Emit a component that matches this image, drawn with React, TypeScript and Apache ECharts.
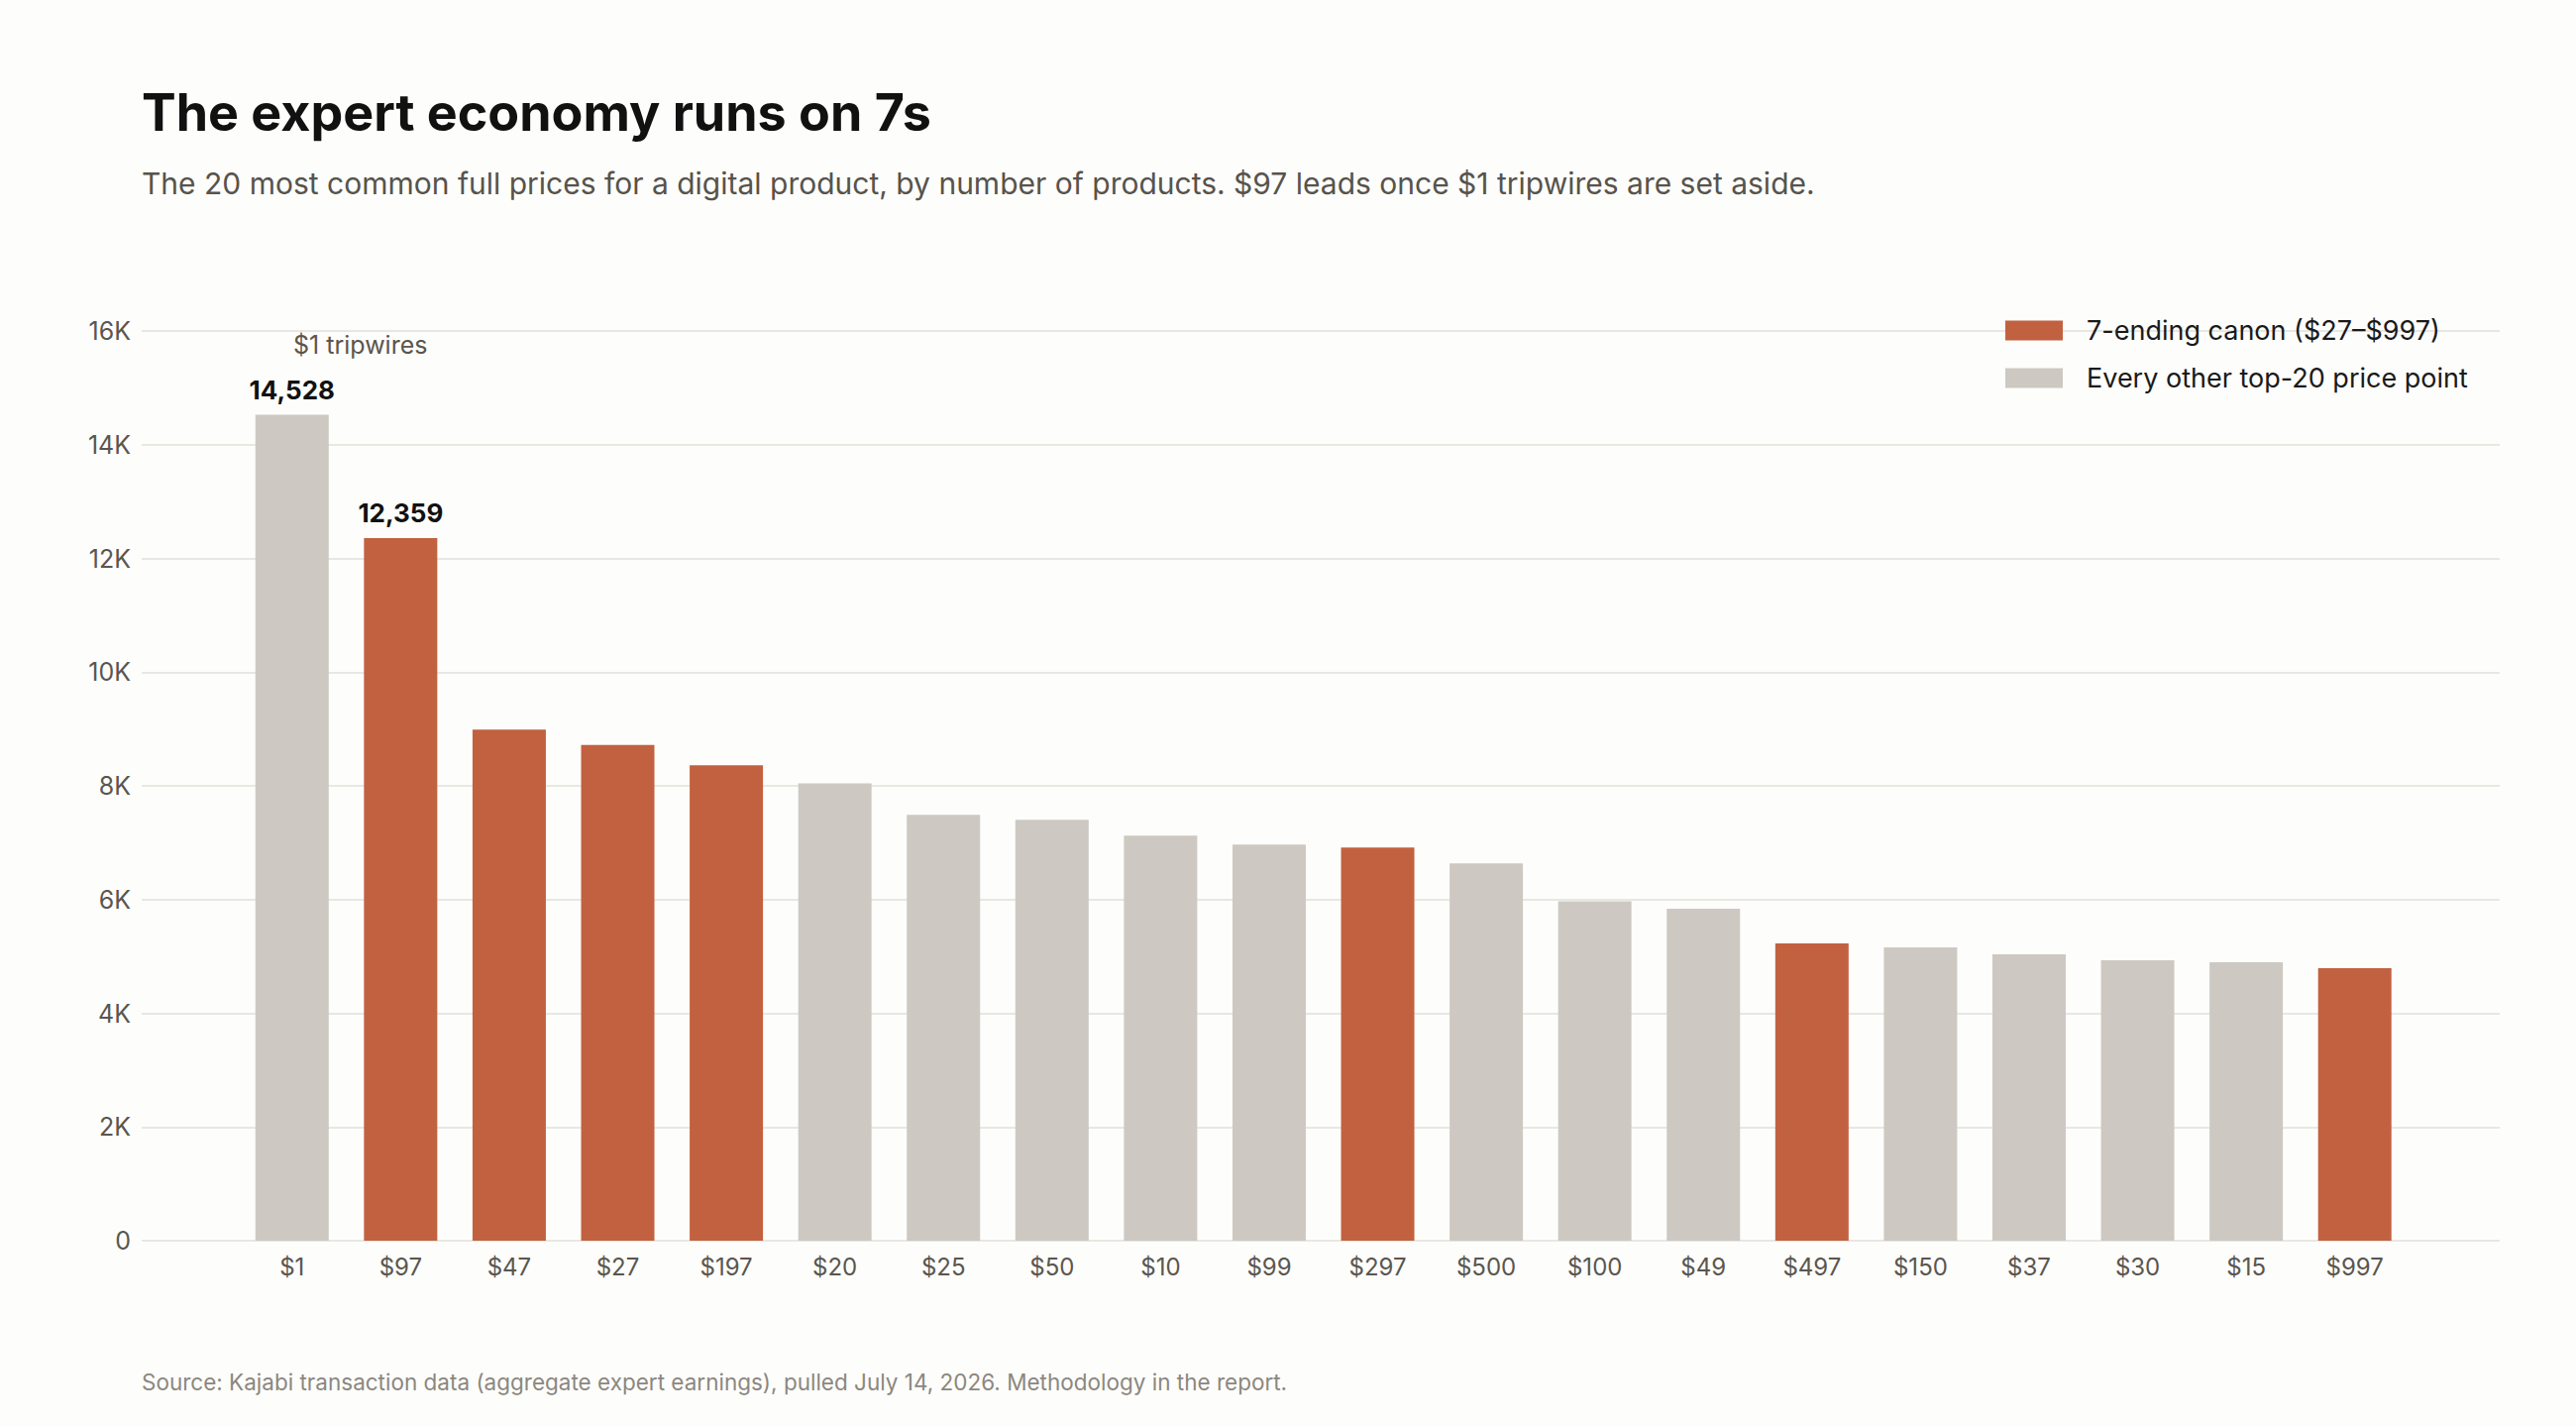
import React, { useEffect, useRef } from "react";
import * as echarts from "echarts";

const categories = ["$1", "$97", "$47", "$27", "$197", "$20", "$25", "$50", "$10", "$99", "$297", "$500", "$100", "$49", "$497", "$150", "$37", "$30", "$15", "$997"];
const counts = [14528, 12359, 8987, 8720, 8360, 8045, 7490, 7403, 7125, 6968, 6916, 6638, 5971, 5838, 5229, 5159, 5038, 4933, 4899, 4794];
const canonPrices = ["$27", "$47", "$97", "$197", "$297", "$497", "$997"];
const labeledPrices = ["$1", "$97"];
const yTicks = [0, 2000, 4000, 6000, 8000, 10000, 12000, 14000, 16000];

const CANON_NAME = "7-ending canon ($27–$997)";
const OTHER_NAME = "Every other top-20 price point";
const ORANGE = "#c26140";
const GREY = "#cdc9c2";
const FONT = "Inter, 'Liberation Sans', Arial, sans-serif";
const AXIS_GREY = "#5a564f";

export default function App() {
  const ref = useRef<HTMLDivElement>(null);

  useEffect(() => {
    document.body.style.margin = "0";
    document.body.style.overflow = "hidden";
    if (!ref.current) return;
    const chart = echarts.init(ref.current, null, { renderer: "svg" });

    const makeData = (wantCanon: boolean) =>
      categories.map((c, i) => {
        const isCanon = canonPrices.includes(c);
        if (isCanon !== wantCanon) return "-";
        if (labeledPrices.includes(c)) {
          return {
            value: counts[i],
            label: {
              show: true,
              position: "top",
              distance: 12,
              fontSize: 26,
              fontWeight: "bold",
              color: "#111111",
              fontFamily: FONT,
              formatter: (p: any) => Number(p.value).toLocaleString("en-US"),
            },
          };
        }
        return counts[i];
      });

    const option: any = {
      animation: false,
      backgroundColor: "#fdfdfb",
      textStyle: { fontFamily: FONT },
      title: [
        {
          text: "The expert economy runs on 7s",
          left: 143,
          top: 87,
          padding: 0,
          textStyle: { fontSize: 52, fontWeight: "bold", color: "#111111", fontFamily: FONT },
        },
        {
          text: "The 20 most common full prices for a digital product, by number of products. $97 leads once $1 tripwires are set aside.",
          left: 143,
          top: 170,
          padding: 0,
          textStyle: { fontSize: 30, fontWeight: "normal", color: "#57534c", fontFamily: FONT },
        },
        {
          text: "Source: Kajabi transaction data (aggregate expert earnings), pulled July 14, 2026. Methodology in the report.",
          left: 143,
          top: 1383,
          padding: 0,
          textStyle: { fontSize: 22.5, fontWeight: "normal", color: "#8c877f", fontFamily: FONT },
        },
      ],
      legend: {
        orient: "vertical",
        left: 2024,
        top: 320,
        padding: 0,
        itemWidth: 58,
        itemHeight: 20,
        itemGap: 21,
        icon: "rect",
        selectedMode: false,
        textStyle: { fontSize: 27, color: "#1a1a1a", padding: [0, 0, 0, 19], fontFamily: FONT },
        data: [CANON_NAME, OTHER_NAME],
      },
      grid: [
        { left: 143, right: 77, top: 334, bottom: 188 },
        { left: 240, right: 168.5, top: 334, bottom: 188 },
      ],
      xAxis: [
        { type: "value", gridIndex: 0, min: 0, max: 1, show: false },
        {
          type: "category",
          gridIndex: 1,
          data: categories,
          axisLine: { show: false },
          axisTick: { show: false },
          axisLabel: { margin: 14, fontSize: 24, color: AXIS_GREY, fontFamily: FONT },
        },
      ],
      yAxis: [
        {
          type: "value",
          gridIndex: 0,
          min: yTicks[0],
          max: yTicks[yTicks.length - 1],
          interval: yTicks[1] - yTicks[0],
          axisLine: { show: false },
          axisTick: { show: false },
          splitLine: { lineStyle: { color: "#e8e8e2", width: 2 } },
          axisLabel: {
            margin: 11,
            fontSize: 25,
            color: AXIS_GREY,
            fontFamily: FONT,
            formatter: (v: number) => (v === 0 ? "0" : v / 1000 + "K"),
          },
        },
        {
          type: "value",
          gridIndex: 1,
          min: yTicks[0],
          max: yTicks[yTicks.length - 1],
          show: false,
          splitLine: { show: false },
        },
      ],
      series: [
        {
          name: CANON_NAME,
          type: "bar",
          xAxisIndex: 1,
          yAxisIndex: 1,
          stack: "all",
          barWidth: 74,
          itemStyle: { color: ORANGE },
          data: makeData(true),
        },
        {
          name: OTHER_NAME,
          type: "bar",
          xAxisIndex: 1,
          yAxisIndex: 1,
          stack: "all",
          barWidth: 74,
          itemStyle: { color: GREY },
          data: makeData(false),
        },
      ],
      graphic: [
        {
          type: "text",
          left: 296,
          top: 335,
          style: { text: "$1 tripwires", font: `25px ${FONT}`, fill: AXIS_GREY },
        },
      ],
    };

    chart.setOption(option);
    return () => chart.dispose();
  }, []);

  return <div ref={ref} style={{ width: 2600, height: 1440 }} />;
}
